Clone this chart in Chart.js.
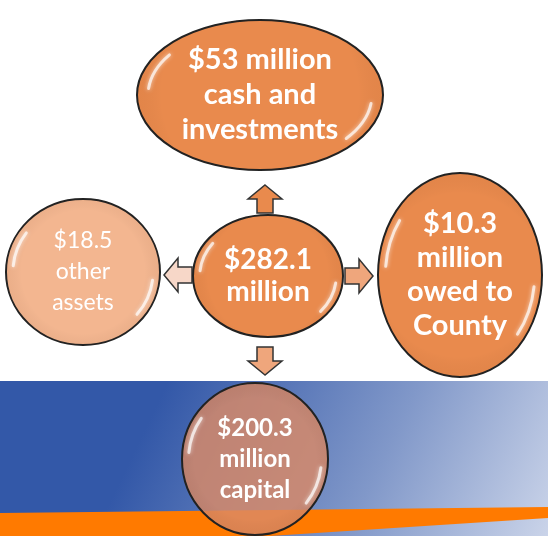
<!DOCTYPE html>
<html>
<head>
<meta charset="utf-8">
<script src="https://cdn.jsdelivr.net/npm/chart.js@4"></script>
<style>
  html, body { margin: 0; padding: 0; background: #fff; }
  #wrap { width: 548px; height: 536px; }
</style>
</head>
<body>
<div id="wrap"><canvas id="chart" width="548" height="536"></canvas></div>
<script>
// node data (dollars in millions)
const nodeValues = [53, 18.5, 282.1, 10.3, 200.3];
const nodeLabels = [
    ['$53 million', 'cash and', 'investments'],
    ['$18.5', 'other', 'assets'],
    ['$282.1', 'million'],
    ['$10.3', 'million', 'owed to', 'County'],
    ['$200.3', 'million', 'capital']
];
const nodeX = [260, 83, 268, 460, 255];
const nodeY = [95, 272, 276, 275, 459];

// arrows from the centre node
const arrowX = [265, 178, 359, 265];
const arrowY = [199, 275, 276, 361];
const arrowDir = ['up', 'left', 'right', 'down'];

// look of each node
const nodeStyle = [
    { rx: 123, ry: 75, fill: '#E98A4D', font: 'bold 29px Lato', lh: 35 },
    { rx: 77, ry: 73, fill: '#F3B690', font: '23px Lato', lh: 31 },
    { rx: 75, ry: 61, fill: '#E98A4D', font: 'bold 28px Lato', lh: 32 },
    { rx: 82, ry: 102, fill: '#E98A4D', font: 'bold 29px Lato', lh: 34 },
    { rx: 73, ry: 76, fill: 'rgba(218,138,102,0.82)', font: 'bold 24px Lato', lh: 31 }
];
const arrowFill = ['#E98A4D', '#F7D7C8', '#EFA67C', '#EFA67C'];

const backdrop = {
    id: 'backdrop',
    beforeDraw(chart) {
        const ctx = chart.ctx;
        const w = chart.width, h = chart.height;
        ctx.save();
        ctx.fillStyle = '#ffffff';
        ctx.fillRect(0, 0, w, h);
        const g = ctx.createLinearGradient(60, 381, w, h + 80);
        g.addColorStop(0, '#3358A8');
        g.addColorStop(0.18, '#3358A8');
        g.addColorStop(0.6, '#8198C9');
        g.addColorStop(1, '#D8DFEF');
        ctx.fillStyle = g;
        ctx.fillRect(0, 381, w, h - 381);
        // orange stripe
        ctx.fillStyle = '#FF7A00';
        ctx.beginPath();
        ctx.moveTo(0, 513);
        ctx.lineTo(w, 507);
        ctx.lineTo(w, 518);
        ctx.lineTo(270, h);
        ctx.lineTo(0, h);
        ctx.closePath();
        ctx.fill();
        ctx.restore();
    }
};

function drawArrow(ctx, x, y, dir, fill) {
    const len = 28, head = 14, hw = 17, sw = 8;
    ctx.save();
    ctx.translate(x, y);
    const rot = { up: 0, right: Math.PI / 2, down: Math.PI, left: -Math.PI / 2 }[dir];
    ctx.rotate(rot);
    ctx.beginPath();
    ctx.moveTo(0, -len / 2);
    ctx.lineTo(hw, -len / 2 + head);
    ctx.lineTo(sw, -len / 2 + head);
    ctx.lineTo(sw, len / 2);
    ctx.lineTo(-sw, len / 2);
    ctx.lineTo(-sw, -len / 2 + head);
    ctx.lineTo(-hw, -len / 2 + head);
    ctx.closePath();
    ctx.fillStyle = fill;
    ctx.fill();
    ctx.lineWidth = 1.5;
    ctx.strokeStyle = '#333';
    ctx.stroke();
    ctx.restore();
}

const bubbles = {
    id: 'bubbles',
    afterDatasetsDraw(chart) {
        const ctx = chart.ctx;
        const arrows = chart.getDatasetMeta(1).data;
        arrows.forEach((pt, i) => drawArrow(ctx, pt.x, pt.y, arrowDir[i], arrowFill[i]));

        const nodes = chart.getDatasetMeta(0).data;
        nodes.forEach((pt, i) => {
            const s = nodeStyle[i];
            ctx.save();
            // body
            ctx.beginPath();
            ctx.ellipse(pt.x, pt.y, s.rx, s.ry, 0, 0, Math.PI * 2);
            ctx.fillStyle = s.fill;
            ctx.fill();
            const sh = ctx.createRadialGradient(pt.x, pt.y, 0, pt.x, pt.y, Math.max(s.rx, s.ry));
            sh.addColorStop(0.8, 'rgba(0,0,0,0)');
            sh.addColorStop(1, 'rgba(120,50,10,0.06)');
            ctx.fillStyle = sh;
            ctx.fill();
            ctx.lineWidth = 2;
            ctx.strokeStyle = '#222';
            ctx.stroke();
            // glossy highlights near the rim
            ctx.lineCap = 'round';
            ctx.shadowColor = 'rgba(255,255,255,0.9)';
            ctx.shadowBlur = 4;
            ctx.strokeStyle = 'rgba(255,255,255,0.7)';
            ctx.lineWidth = 3;
            ctx.beginPath();
            ctx.ellipse(pt.x, pt.y, s.rx * 0.91, s.ry * 0.91, 0, Math.PI * 1.03, Math.PI * 1.2);
            ctx.stroke();
            ctx.beginPath();
            ctx.ellipse(pt.x, pt.y, s.rx * 0.91, s.ry * 0.91, 0, Math.PI * 0.04, Math.PI * 0.22);
            ctx.stroke();
            ctx.shadowBlur = 0;
            // label
            ctx.fillStyle = '#ffffff';
            ctx.font = s.font;
            ctx.textAlign = 'center';
            ctx.textBaseline = 'middle';
            const lines = nodeLabels[i];
            const top = pt.y - (lines.length - 1) * s.lh / 2;
            lines.forEach((t, k) => ctx.fillText(t, pt.x, top + k * s.lh));
            ctx.restore();
        });
    }
};

new Chart(document.getElementById('chart'), {
    type: 'scatter',
    data: {
        datasets: [
            {
                label: 'Assets ($ million)',
                data: nodeValues.map((v, i) => ({ x: nodeX[i], y: nodeY[i], v: v })),
                pointRadius: 0
            },
            {
                label: 'Arrows',
                data: arrowX.map((x, i) => ({ x: x, y: arrowY[i] })),
                pointRadius: 0
            }
        ]
    },
    options: {
        responsive: false,
        animation: false,
        layout: { padding: 0 },
        scales: {
            x: { type: 'linear', min: 0, max: 548, display: false },
            y: { type: 'linear', min: 0, max: 536, reverse: true, display: false }
        },
        plugins: {
            legend: { display: false },
            tooltip: { enabled: false }
        }
    },
    plugins: [backdrop, bubbles]
});
</script>
</body>
</html>
